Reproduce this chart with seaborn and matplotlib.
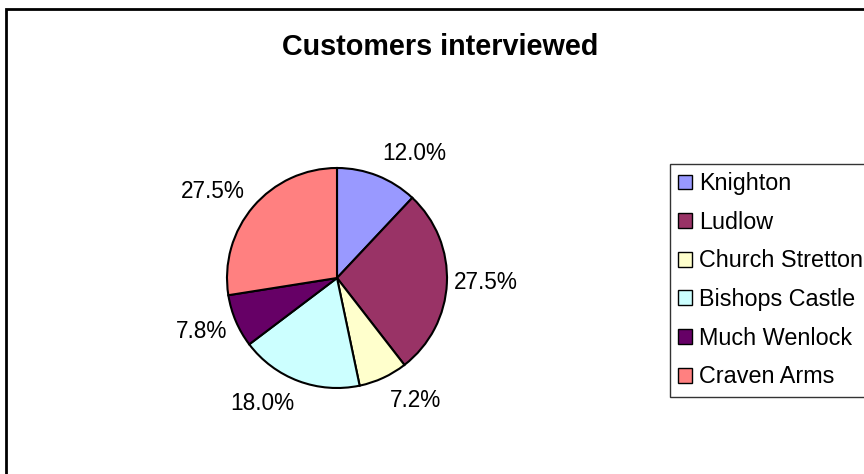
import matplotlib
matplotlib.use("Agg")
import matplotlib.pyplot as plt
from matplotlib.patches import Rectangle
import seaborn as sns

categories = ["Knighton", "Ludlow", "Church Stretton", "Bishops Castle", "Much Wenlock", "Craven Arms"]
values = [12.0, 27.5, 7.2, 18.0, 7.8, 27.5]
colors = ["#9999FF", "#993366", "#FFFFCC", "#CCFFFF", "#660066", "#FF8080"]
title = "Customers interviewed"

sns.set_theme(style="white")
plt.rcParams["font.family"] = ["Liberation Sans", "DejaVu Sans"]
plt.rcParams["text.color"] = "black"

W, H = 864, 474
fig = plt.figure(figsize=(W / 100, H / 100), dpi=100)
fig.patch.set_facecolor("white")

# pie axes: center (337,278) px, radius 110 px
R = 110.0
lim = 1.6
side = 2 * lim * R
cx, cy = 337, 278
ax = fig.add_axes([(cx - side / 2) / W, (H - (cy + side / 2)) / H, side / W, side / H])

wedges, texts, autotexts = ax.pie(
    values, colors=colors, startangle=90, counterclock=False,
    autopct="%1.1f%%", pctdistance=1.3,
    wedgeprops=dict(edgecolor="black", linewidth=1.5),
    textprops=dict(fontsize=16.3, color="black"),
)
ax.set_xlim(-lim, lim)
ax.set_ylim(-lim, lim)
ax.set_aspect("equal")
ax.axis("off")

# nudge labels to Excel-like placements (pixel offsets)
offsets = [(25, 8), (6, -2), (18, -7), (-25, -8), (-4, -2), (-15, 6)]
for t, (dx, dy) in zip(autotexts, offsets):
    x, y = t.get_position()
    t.set_position((x + dx / R, y - dy / R))

fig.text(440 / W, 1 - 47 / H, title, ha="center", va="center",
         fontsize=20.7, fontweight="bold", color="black")

leg = fig.legend(wedges, categories, loc="upper left",
                 bbox_to_anchor=(670 / W, 1 - 383 / H, 0.5, (383 - 164) / H),
                 mode="expand", fontsize=16.8, frameon=True, fancybox=False,
                 handlelength=0.6, handleheight=0.6, handletextpad=0.3,
                 labelspacing=0.67, borderpad=0.35, borderaxespad=0)
leg.get_frame().set_edgecolor("black")
leg.get_frame().set_linewidth(1.0)
for h in leg.legend_handles:
    h.set_edgecolor("black")
    h.set_linewidth(1.0)

fig.add_artist(Rectangle((6 / W, -0.1), 1.2, (1 - 9 / H) + 0.1, fill=False,
                         edgecolor="black", linewidth=2,
                         transform=fig.transFigure, clip_on=False))

fig.savefig("out.png", dpi=100)
